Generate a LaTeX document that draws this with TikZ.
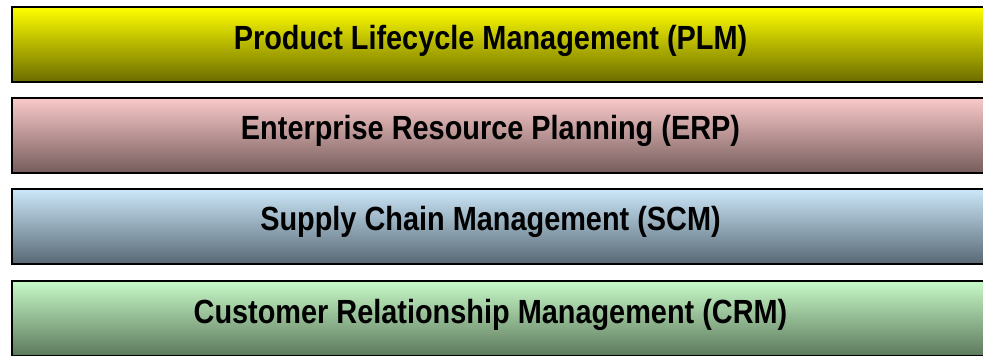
\documentclass[tikz,border=0pt]{standalone}
\usepackage{fontspec}
\setmainfont{Liberation Sans}
\newfontface\narrowbold[FakeStretch=0.862]{Liberation Sans Bold}
\definecolor{ylT}{RGB}{255,255,0}
\definecolor{ylM}{RGB}{212,212,0}
\definecolor{ylB}{RGB}{108,108,0}
\definecolor{pkT}{RGB}{250,202,202}
\definecolor{pkM}{RGB}{205,165,165}
\definecolor{pkB}{RGB}{118,92,92}
\definecolor{blT}{RGB}{204,232,250}
\definecolor{blM}{RGB}{165,188,204}
\definecolor{blB}{RGB}{88,104,116}
\definecolor{grT}{RGB}{200,250,200}
\definecolor{grM}{RGB}{162,204,162}
\definecolor{grB}{RGB}{92,120,92}
\tikzset{
  layerbox/.style={draw=black, line width=1.6pt, rectangle, inner sep=0pt,
    minimum width=990pt, minimum height=75pt, anchor=north west},
  layertext/.style={anchor=base, inner sep=0pt,
    font=\fontsize{33.5}{38}\narrowbold}
}
\begin{document}
\begin{tikzpicture}[x=1pt,y=-1pt]
\useasboundingbox (0,0) rectangle (983,356);
\clip (0,0) rectangle (983,356);
\node[layerbox, top color=ylT, middle color=ylM, bottom color=ylB] (plm) at (11,6) {};
\node[layerbox, top color=pkT, middle color=pkM, bottom color=pkB] (erp) at (11,97) {};
\node[layerbox, top color=blT, middle color=blM, bottom color=blB] (scm) at (11,188) {};
\node[layerbox, top color=grT, middle color=grM, bottom color=grB] (crm) at (11,280) {};
\node[layertext] (plmtxt) at (490.5,49.5) {Product Lifecycle Management (PLM)};
\node[layertext] (erptxt) at (490.5,139) {Enterprise Resource Planning (ERP)};
\node[layertext] (scmtxt) at (490.5,230.5) {Supply Chain Management (SCM)};
\node[layertext] (crmtxt) at (490.5,323) {Customer Relationship Management (CRM)};
\end{tikzpicture}
\end{document}
